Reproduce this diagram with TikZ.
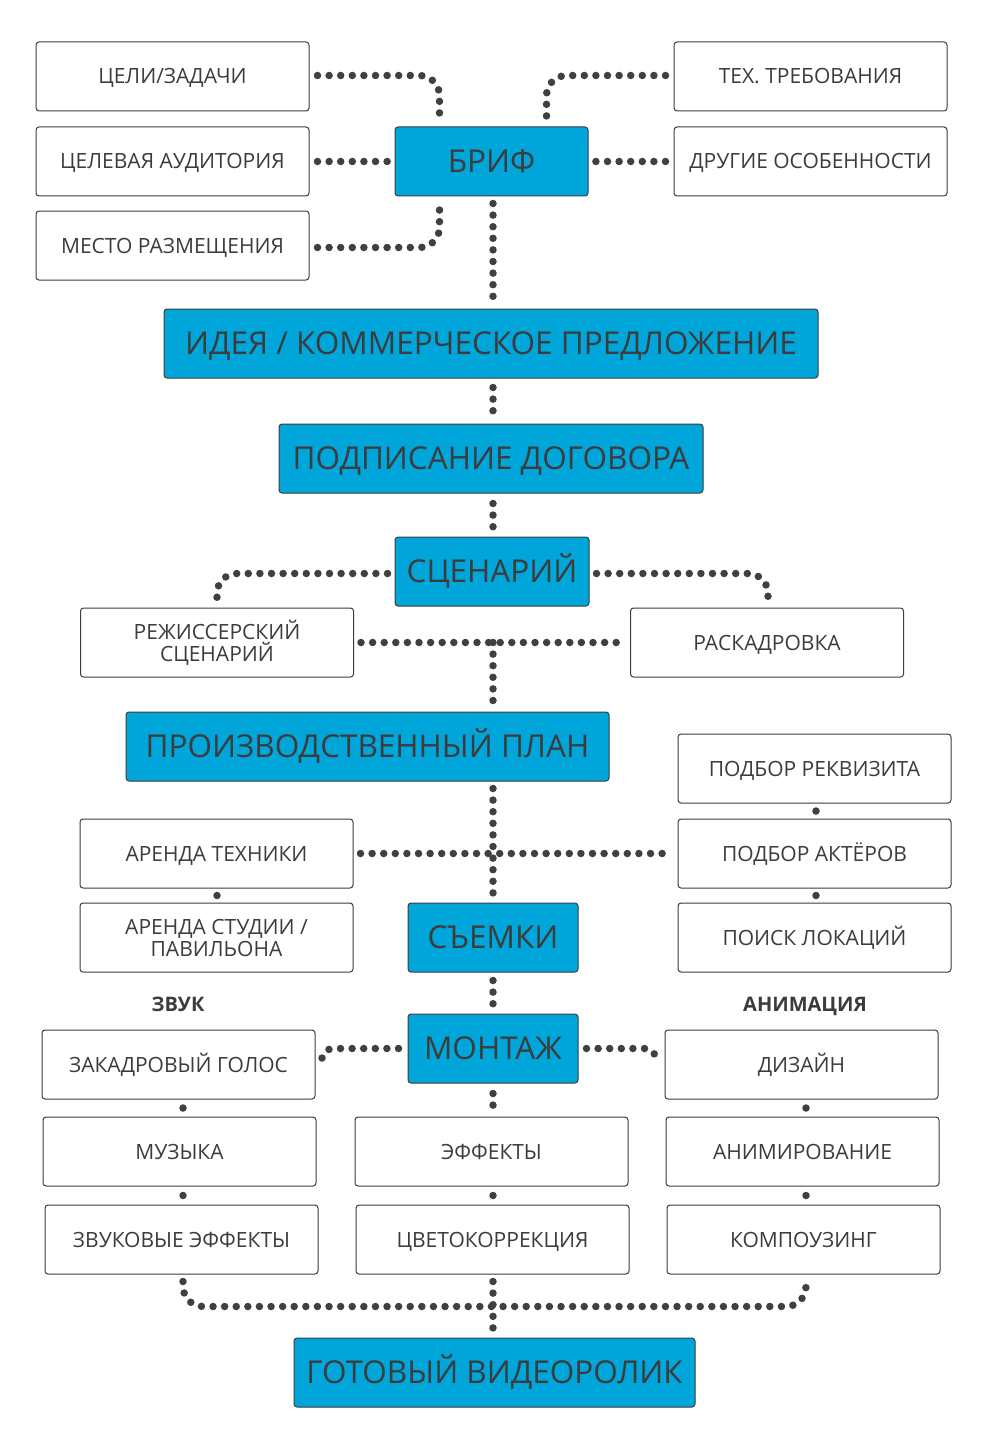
\documentclass[tikz,border=0pt]{standalone}
\usepackage{fontspec}
\setmainfont{Open Sans}
\usetikzlibrary{calc}
\definecolor{blu}{HTML}{00A5DA}
\definecolor{ink}{HTML}{3C3C3C}
\definecolor{dotc}{HTML}{404040}
\begin{document}
\begin{tikzpicture}[x=1pt,y=-1pt,
 box/.style={draw=ink, line width=1pt, rounded corners=3pt, fill=white, inner sep=0pt, text=ink, align=center,
   font=\fontsize{21}{22}\selectfont, minimum width=273pt, minimum height=69pt, text height=15pt, text depth=0pt},
 twoline/.style={text height=37pt, text depth=0pt},
 bbox/.style={box, fill=blu, font=\fontsize{31.5}{36}\selectfont, text height=22.5pt, text depth=0pt},
 dots/.style={draw=dotc, line width=7.5pt, line cap=round, dash pattern=on 0pt off 11.6pt},
 onedot/.style={circle, fill=dotc, inner sep=0pt, minimum size=7.5pt},
 lbl/.style={text=ink, inner sep=0pt, font=\fontsize{20}{22}\selectfont\bfseries, text height=14.3pt, text depth=0pt}
]
\fill[white] (0,0) rectangle (984,1442);
\useasboundingbox (0,0) rectangle (984,1442);

% top row
\node[box] (cel) at (172.5,76.5) {ЦЕЛИ/ЗАДАЧИ};
\node[box] (aud) at (172.5,161.5) {ЦЕЛЕВАЯ АУДИТОРИЯ};
\node[box] (mesto) at (172.5,245.5) {МЕСТО РАЗМЕЩЕНИЯ};
\node[bbox, minimum width=193pt] (brif) at (491.5,161.5) {БРИФ};
\node[box] (teh) at (810.5,76.5) {ТЕХ. ТРЕБОВАНИЯ};
\node[box] (drug) at (810.5,161.5) {ДРУГИЕ ОСОБЕННОСТИ};

\node[bbox, minimum width=654pt] (idea) at (491,343.5) {ИДЕЯ / КОММЕРЧЕСКОЕ ПРЕДЛОЖЕНИЕ};
\node[bbox, minimum width=424pt] (podp) at (491,458.5) {ПОДПИСАНИЕ ДОГОВОРА};
\node[bbox, minimum width=194pt] (scen) at (492,571.5) {СЦЕНАРИЙ};
\node[box, twoline] (rezh) at (217,642.5) {РЕЖИССЕРСКИЙ\\СЦЕНАРИЙ};
\node[box] (rask) at (767,642.5) {РАСКАДРОВКА};

\node[bbox, minimum width=483pt] (plan) at (367.5,746.5) {ПРОИЗВОДСТВЕННЫЙ ПЛАН};
\node[box] (rekv) at (814.5,768.5) {ПОДБОР РЕКВИЗИТА};
\node[box] (arT) at (216.5,853.5) {АРЕНДА ТЕХНИКИ};
\node[box] (akt) at (814.5,853.5) {ПОДБОР АКТЁРОВ};
\node[box, twoline] (arS) at (216.5,937.5) {АРЕНДА СТУДИИ /\\ПАВИЛЬОНА};
\node[bbox, minimum width=170pt] (sem) at (493,937.5) {СЪЕМКИ};
\node[box] (poisk) at (814.5,937.5) {ПОИСК ЛОКАЦИЙ};

\node[lbl] (zvuk) at (178,1004) {ЗВУК};
\node[lbl] (animl) at (805,1004) {АНИМАЦИЯ};

\node[box] (zak) at (178.5,1064.5) {ЗАКАДРОВЫЙ ГОЛОС};
\node[bbox, minimum width=170pt] (mont) at (493,1048.5) {МОНТАЖ};
\node[box] (diz) at (801.5,1064.5) {ДИЗАЙН};
\node[box] (muz) at (179.5,1151.5) {МУЗЫКА};
\node[box] (eff) at (491.5,1151.5) {ЭФФЕКТЫ};
\node[box] (anim) at (802.5,1151.5) {АНИМИРОВАНИЕ};
\node[box] (zvef) at (181.5,1239.5) {ЗВУКОВЫЕ ЭФФЕКТЫ};
\node[box] (cvet) at (492.5,1239.5) {ЦВЕТОКОРРЕКЦИЯ};
\node[box] (komp) at (803.5,1239.5) {КОМПОУЗИНГ};
\node[bbox, minimum width=401pt] (gotov) at (494.5,1372.5) {ГОТОВЫЙ ВИДЕОРОЛИК};

% single dots
\node[onedot] (d1) at (816,811) {};
\node[onedot] (d2) at (816,895.5) {};
\node[onedot] (d3) at (217,895.5) {};
\node[onedot] (d4) at (183,1108) {};
\node[onedot] (d5) at (183,1195.5) {};
\node[onedot] (d6) at (493,1195.5) {};
\node[onedot] (d7) at (806,1108) {};
\node[onedot] (d8) at (806,1195.5) {};

\coordinate (j1) at (493,642.5);

% connectors
\draw[dots, rounded corners=20pt] ([xshift=8pt,yshift=1pt]cel.east) -| ([xshift=-52pt,yshift=11pt]brif.north);
\draw[dots] ([xshift=8pt]aud.east) -- ([xshift=-6pt]brif.west);
\draw[dots, rounded corners=20pt] ([xshift=8pt,yshift=-2pt]mesto.east) -| ([xshift=-52pt,yshift=-7pt]brif.south);
\draw[dots, rounded corners=20pt] ([xshift=-8pt,yshift=1pt]teh.west) -| ([xshift=55pt,yshift=10pt]brif.north);
\draw[dots] ([xshift=-8pt]drug.west) -- ([xshift=6pt]brif.east);
\draw[dots] ([xshift=1.5pt,yshift=-7pt]brif.south) -- ([xshift=2pt,yshift=9pt]idea.north);
\draw[dots] ([xshift=2pt,yshift=-9pt]idea.south) -- ([xshift=2pt,yshift=10pt]podp.north);
\draw[dots] ([xshift=2pt,yshift=-10pt]podp.south) -- ([xshift=1pt,yshift=8pt]scen.north);
\draw[dots, rounded corners=20pt] ([xshift=-7pt,yshift=-2pt]scen.west) -| ([yshift=8pt]rezh.north);
\draw[dots, rounded corners=20pt] ([xshift=7pt,yshift=-2pt]scen.east) -| ([xshift=1pt,yshift=8pt]rask.north);
\draw[dots] ([xshift=7pt]rezh.east) -- ([xshift=-7pt]rask.west);
\draw[dots] (j1) -- ([xshift=125.5pt,yshift=9pt]plan.north);
\draw[dots] ([xshift=125.5pt,yshift=-7pt]plan.south) -- ([yshift=8pt]sem.north);
\draw[dots] ([xshift=7pt]arT.east) -- ([xshift=-7pt]akt.west);
\draw[dots] ([yshift=-8pt]sem.south) -- ([yshift=8pt]mont.north);
\draw[dots, rounded corners=12pt] ([xshift=-9pt]mont.west) -| ([xshift=6pt]zak.east);
\draw[dots, rounded corners=12pt] ([xshift=8pt]mont.east) -| ([xshift=-8pt]diz.west);
\draw[dots] ([yshift=-10pt]mont.south) -- ([xshift=1.5pt,yshift=10pt]eff.north);
\draw[dots, rounded corners=20pt] ([xshift=1.5pt,yshift=-7pt]zvef.south) |- ([xshift=2.5pt,yshift=-32pt]komp.south) -- ([xshift=2.5pt,yshift=-7pt]komp.south);
\draw[dots] ([xshift=0.5pt,yshift=-7pt]cvet.south) -- ([xshift=-1.5pt,yshift=8pt]gotov.north);
\end{tikzpicture}
\end{document}
